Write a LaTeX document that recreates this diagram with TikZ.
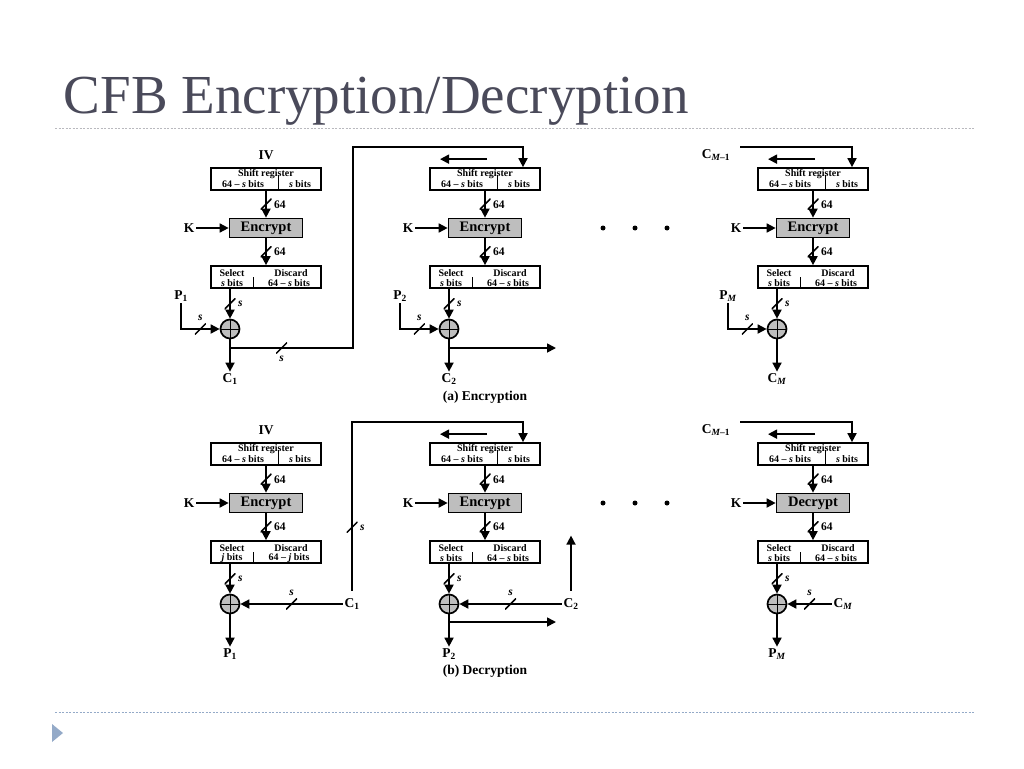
\documentclass[tikz,border=0pt]{standalone}
\usepackage{fontspec}
\setmainfont{Liberation Serif}
\usetikzlibrary{arrows.meta,positioning}
\definecolor{titlegray}{RGB}{74,74,90}
\definecolor{rulegray}{RGB}{185,185,190}
\definecolor{ruleblue}{RGB}{148,170,200}
\definecolor{boxgray}{RGB}{190,190,190}

\begin{document}
\begin{tikzpicture}
    [
        x=1pt,y=-1pt,
        line width=1.7pt,
        >={Triangle[length=9pt,width=9pt]},
        reg/.style={draw,minimum width=110pt,minimum height=22pt,inner sep=0pt},
        cipher/.style={draw,fill=boxgray,minimum width=73pt,minimum height=19pt,inner sep=0pt,
            font=\fontsize{14.5}{15}\selectfont\bfseries},
        xor/.style={draw,circle,fill=boxgray,minimum size=19pt,inner sep=0pt,
            path picture={\draw[-,line width=.8pt] (path picture bounding box.north) -- (path picture bounding box.south)
                (path picture bounding box.west) -- (path picture bounding box.east);}},
        cut/.style={minimum size=11pt,inner sep=0pt,label distance=1pt,
            path picture={\draw[-,line width=1.5pt] (path picture bounding box.south west) -- (path picture bounding box.north east);}},
        lbl/.style={font=\fontsize{13.5}{14}\selectfont\bfseries,inner sep=1pt},
        bits/.style={font=\fontsize{11.5}{12}\selectfont\bfseries,inner sep=1pt},
        regtext/.style={font=\fontsize{10}{10}\selectfont\bfseries,inner sep=0pt}
    ]

    \useasboundingbox (0,0) rectangle (1024,768);
    \fill[white] (0,0) rectangle (1024,768);

    \node[anchor=base west,inner sep=0pt,text=titlegray,font=\fontsize{55}{60}\selectfont] (title) at (63,113) {CFB Encryption/Decryption};
    \draw[rulegray,line width=.8pt,dash pattern=on 2pt off 1.5pt] (55,128) -- (975,128);
    \draw[ruleblue,line width=.8pt,dash pattern=on 2pt off 1.5pt] (55,712) -- (975,712);
    \fill[ruleblue] (52,724) -- (63,733) -- (52,742) -- cycle;

    \foreach \i/\dx/\dy/\fn/\b in {1/0/0/Encrypt/s,2/219/0/Encrypt/s,3/547/0/Encrypt/s,
                                    4/0/275/Encrypt/j,5/219/275/Encrypt/s,6/547/275/Decrypt/s}
    {
        \begin{scope}[shift={(\dx,\dy)}]
            \node[reg] (sr\i) at (266,179) {};
            \node[regtext] at (266,174.5) {Shift register};
            \node[regtext] at (243,184.5) {64 -- \textit{s} bits};
            \node[regtext] at (300,184.5) {\textit{s} bits};
            \draw[line width=.8pt] (278,175) -- (278,190);
            \node[cipher] (enc\i) at (266,228) {\fn};
            \node[lbl] (k\i) at (189,228) {K};
            \node[reg] (sel\i) at (266,277) {};
            \node[regtext] at (232,273) {Select};
            \node[regtext] at (232,283) {\textit{\b} bits};
            \node[regtext] at (291,273) {Discard};
            \node[regtext] at (289,283) {64 -- \textit{\b} bits};
            \draw[line width=.8pt] (253,277) -- (253,288);
            \node[xor] (x\i) at (230,329) {};
            \draw[->] (k\i) -- (enc\i);
            \draw[->] (sr\i) -- node[cut,label={[bits]right:64}] {} (enc\i);
            \draw[->] (enc\i) -- node[cut,label={[bits]right:64}] {} (sel\i);
            \draw[->] (sel\i.south -| x\i) -- node[cut,label={[bits]right:\textit{s}}] {} (x\i);
        \end{scope}
    }

    \foreach \i/\dx/\n in {1/0/1,2/219/2,3/547/{\textit{M}}}
    {
        \begin{scope}[shift={(\dx,0)}]
            \node[lbl] (p\i) at (181,296) {P\textsubscript{\n}};
            \node[lbl] (c\i) at (230,379) {C\textsubscript{\n}};
            \draw[->] (p\i) |- node[pos=.75,cut,label={[bits]above:\textit{s}}] {} (x\i);
            \draw[->] (x\i) -- (c\i);
        \end{scope}
    }

    \foreach \i/\dx/\cx/\n in {4/0/352/1,5/219/352/2,6/547/296/{\textit{M}}}
    {
        \begin{scope}[shift={(\dx,275)}]
            \node[lbl] (d\i) at (\cx,329) {C\textsubscript{\n}};
            \node[lbl] (q\i) at (230,379) {P\textsubscript{\n}};
            \draw[->] (d\i) -- node[cut,label={[bits]above:\textit{s}}] {} (x\i);
            \draw[->] (x\i) -- (q\i);
        \end{scope}
    }

    \node[lbl] (iv1) at (266,155) {IV};
    \node[lbl] (iv4) at (266,430) {IV};
    \node[lbl] (cm3) at (716,155) {C\textsubscript{\textit{M}--1}};
    \node[lbl] (cm6) at (716,430) {C\textsubscript{\textit{M}--1}};

    \coordinate (tap1) at (230,348);
    \coordinate (tap2) at (450,348);
    \coordinate (tap5) at (450,622);
    \draw[->] (tap1) -- node[pos=.42,cut,label={[bits]below:\textit{s}}] {} (353,348) -- (353,147) -| ([xshift=38pt]sr2.north);
    \draw[->] (tap2) -- (556,348);
    \draw[->] (740,147) -| ([xshift=39pt]sr3.north);
    \draw[->] ([yshift=6pt]d4.north) -- node[pos=.375,cut,label={[bits]right:\textit{s}}] {} (352,422) -| ([xshift=38pt]sr5.north);
    \draw[->] ([yshift=6pt]d5.north) -- ++(0,-55);
    \draw[->] (tap5) -- (556,622);
    \draw[->] (740,422) -| ([xshift=39pt]sr6.north);
    \foreach \s in {2,3,5,6}
        \draw[->] ([shift={(2,-8)}]sr\s.north) -- ([shift={(-45,-8)}]sr\s.north);

    \foreach \y in {228,503}
        \foreach \x in {603,635,667}
            \fill (\x,\y) circle (2.5pt);

    \node[lbl] (capa) at (485,397) {(a) Encryption};
    \node[lbl] (capb) at (485,671) {(b) Decryption};
\end{tikzpicture}
\end{document}
